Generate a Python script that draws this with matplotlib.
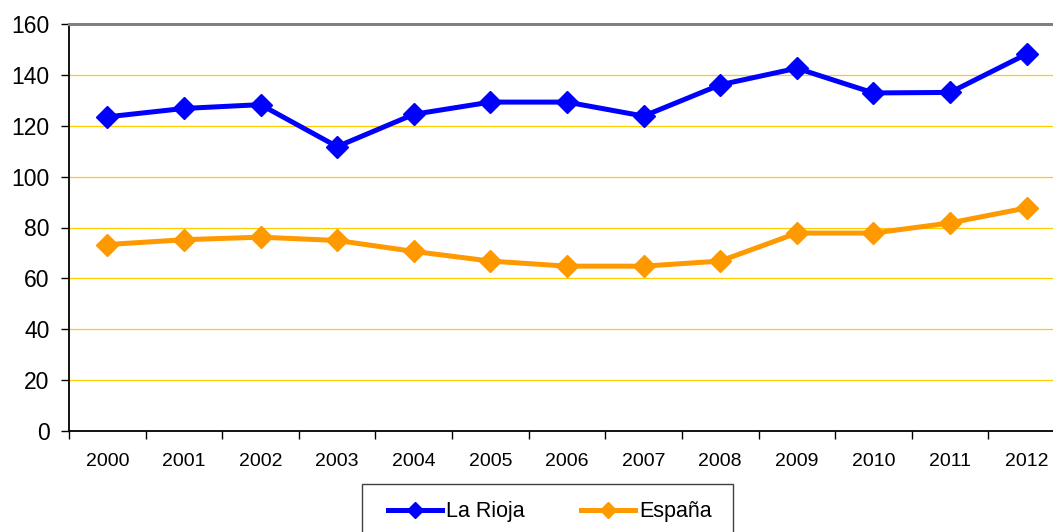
import matplotlib
matplotlib.use("Agg")
import matplotlib.pyplot as plt
from matplotlib.ticker import FixedLocator
from matplotlib.patches import Rectangle

plt.rcParams['font.family'] = ['Liberation Sans', 'DejaVu Sans']

years = ['2000', '2001', '2002', '2003', '2004', '2005', '2006',
         '2007', '2008', '2009', '2010', '2011', '2012']
la_rioja = [123.5, 126.8, 128.3, 111.8, 124.5, 129.3, 129.3,
            123.8, 136.1, 142.6, 132.9, 133.1, 148.2]
espana = [73.3, 75.2, 76.2, 74.9, 70.6, 66.8, 64.8,
          64.8, 66.8, 77.8, 77.8, 81.8, 87.7]
y_ticks = [0, 20, 40, 60, 80, 100, 120, 140, 160]

W, H = 1053, 532
fig = plt.figure(figsize=(W / 100, H / 100), dpi=100)
left, right, top, bottom = 69, 1065, 24, 431
ax = fig.add_axes([left / W, 1 - bottom / H, (right - left) / W, (bottom - top) / H])

x = list(range(len(years)))
ax.plot(x, la_rioja, color='#0000FF', lw=3.6, marker='D', ms=11.5,
        label='La Rioja', zorder=4, solid_joinstyle='miter')
ax.plot(x, espana, color='#FF9900', lw=3.6, marker='D', ms=11.5,
        label='España', zorder=3, solid_joinstyle='miter')

ax.set_xlim(-0.5, len(years) - 0.5)
ax.set_ylim(0, 160)
ax.set_yticks(y_ticks)
ax.tick_params(axis='y', labelsize=16.5, length=6, width=1, pad=8, direction='out')

ax.set_xticks(x)
ax.set_xticklabels(years)
ax.xaxis.set_minor_locator(FixedLocator([i - 0.5 for i in range(len(years) + 1)]))
ax.tick_params(axis='x', which='major', length=0, labelsize=14, pad=16)
ax.tick_params(axis='x', which='minor', length=6, width=1, direction='out')

for v in y_ticks[1:-1]:
    ax.axhline(v, color='#FFCC00', lw=0.9, zorder=1)

ax.spines['top'].set_color('#808080')
ax.spines['top'].set_linewidth(2.2)
ax.spines['left'].set_color('black')
ax.spines['left'].set_linewidth(1.3)
ax.spines['bottom'].set_color('black')
ax.spines['bottom'].set_linewidth(1.3)
ax.spines['right'].set_color('#808080')

leg = fig.legend(loc='center left', bbox_to_anchor=(388 / W, 1 - 512 / H),
                 ncol=2, fontsize=15.5, frameon=False,
                 borderaxespad=0, borderpad=0,
                 handlelength=2.5, handletextpad=0.2, columnspacing=2.6,
                 markerscale=0.72)

box = Rectangle((362 / W, 1 - 545 / H), (733 - 362) / W, (545 - 484) / H,
                transform=fig.transFigure, fill=False, edgecolor='#404040',
                lw=1.0, clip_on=False)
fig.add_artist(box)

fig.savefig('out.png', dpi=100)
